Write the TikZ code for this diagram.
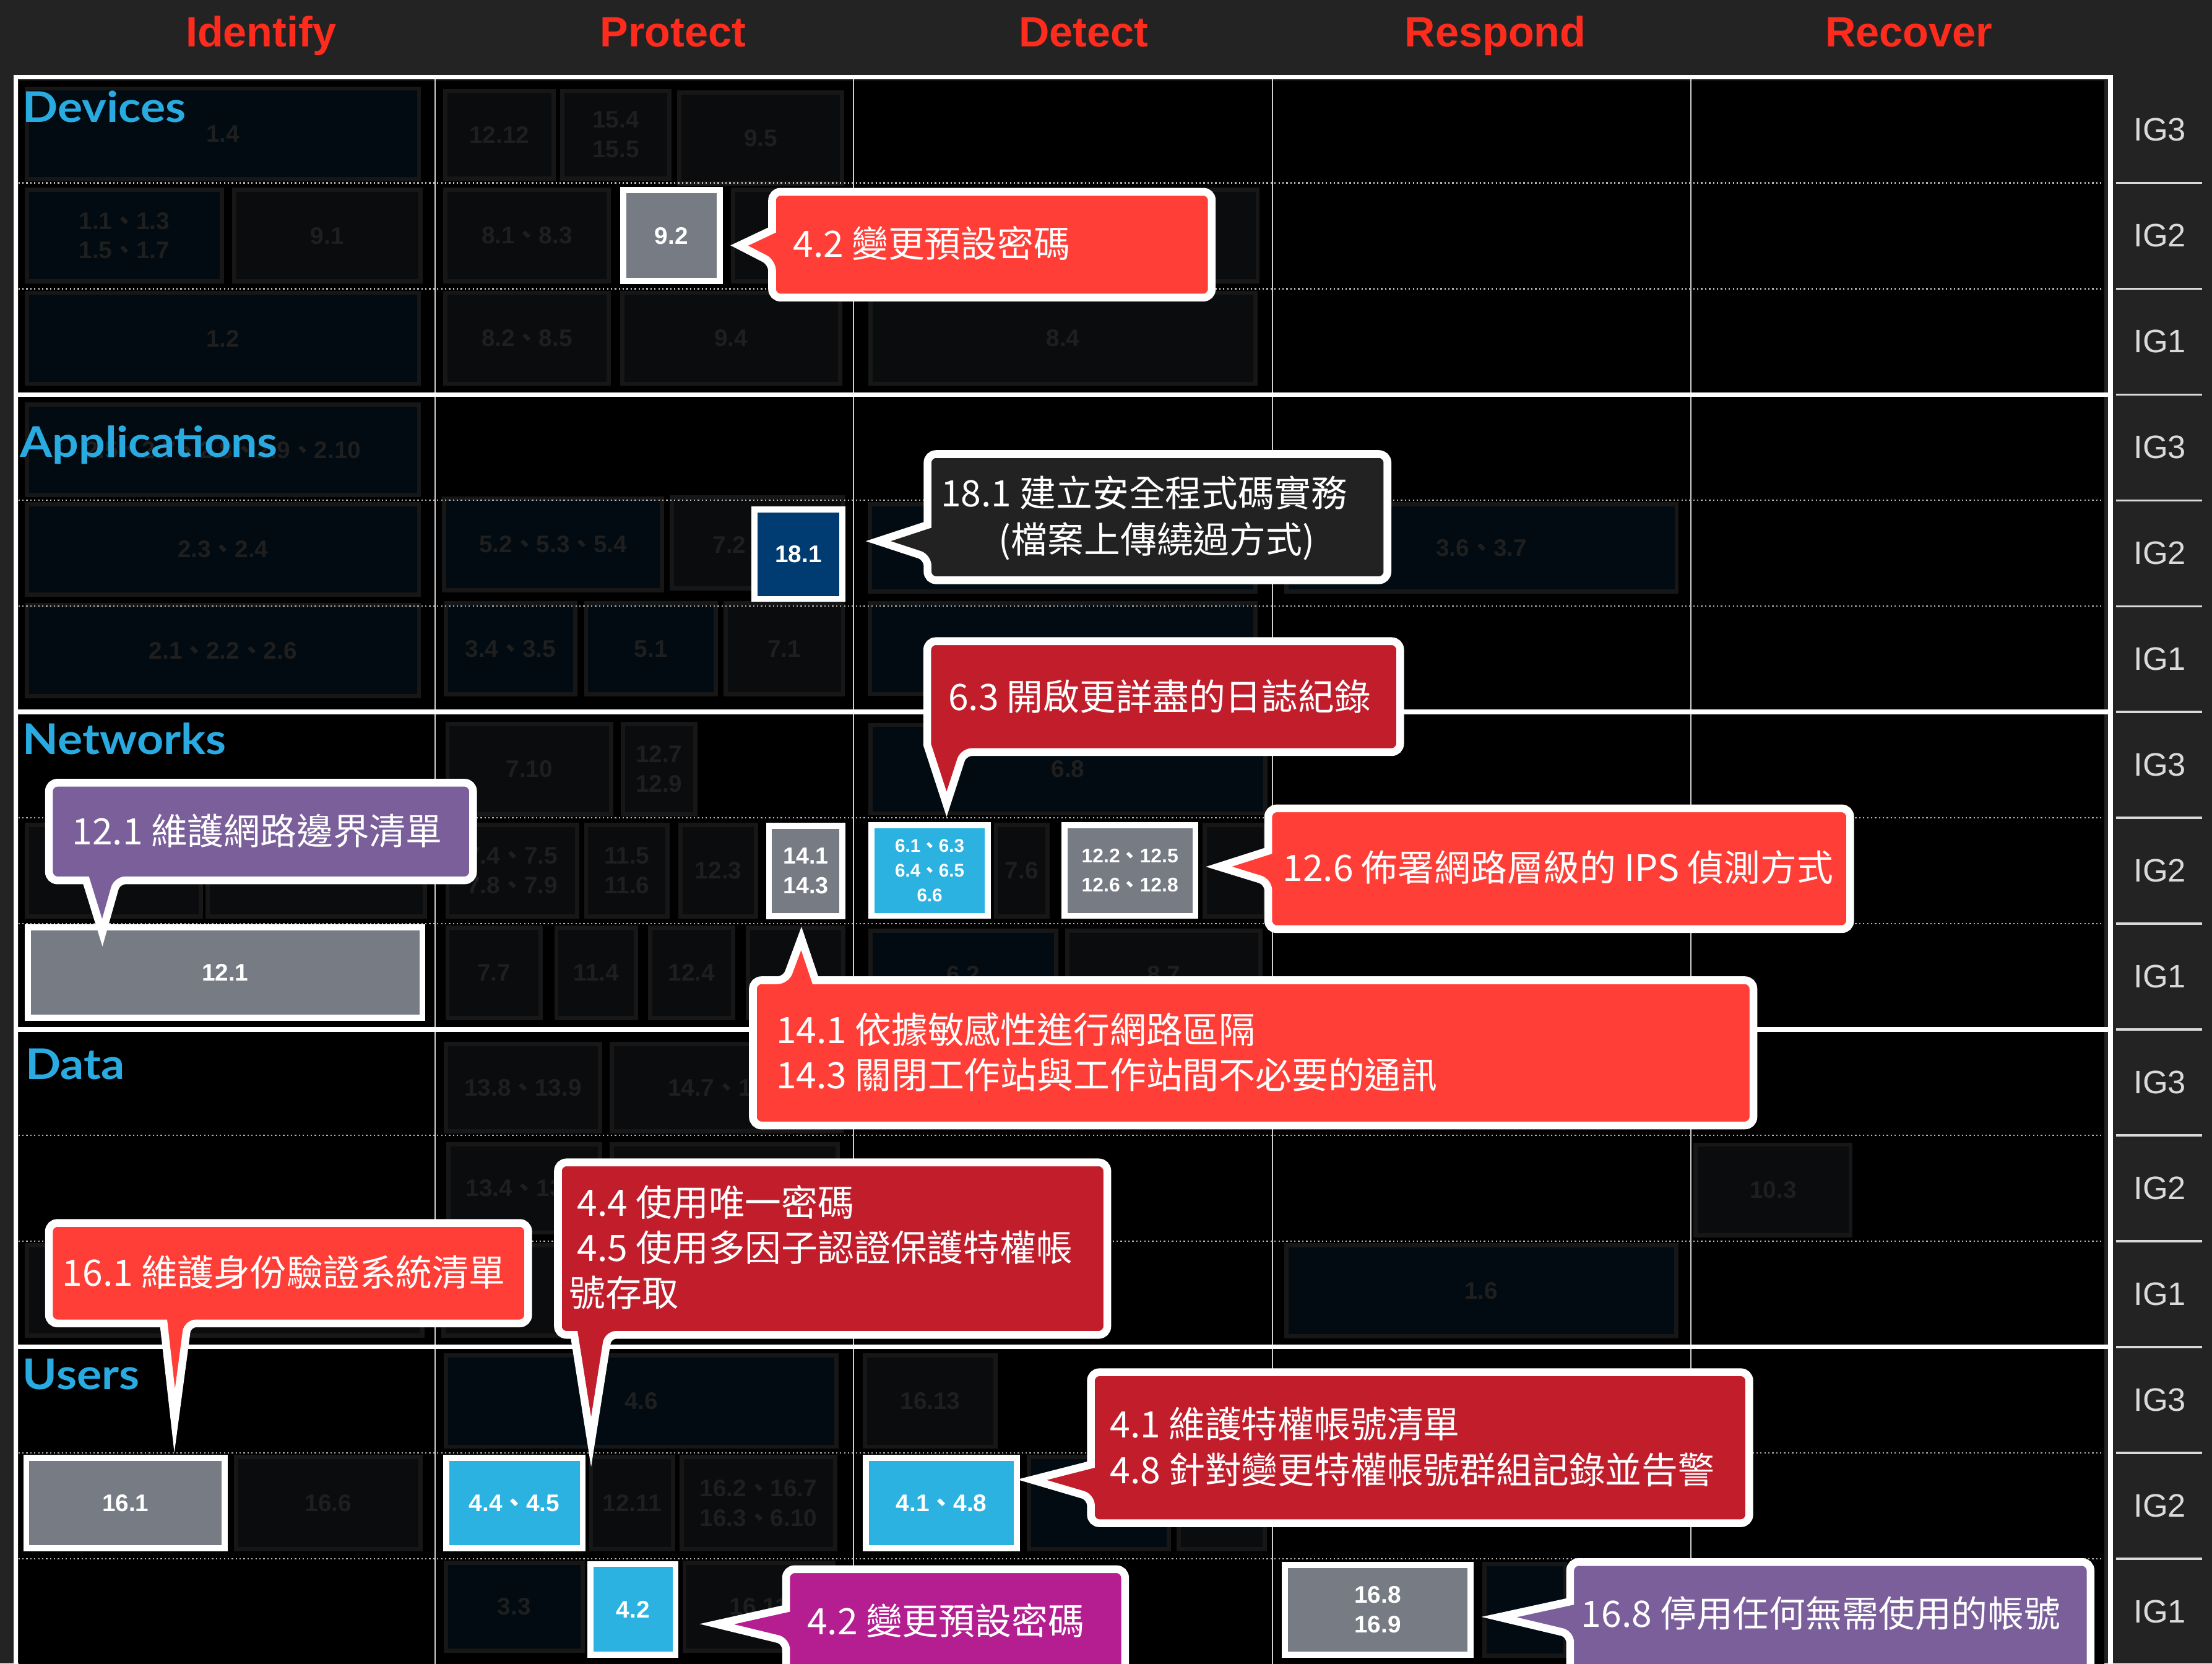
\documentclass[tikz,border=0pt]{standalone}
\usepackage{fontspec}
\setmainfont{Liberation Sans}
\newfontfamily\cjk{Noto Sans CJK TC}
\newfontfamily\catf[FakeStretch=1.1]{Lato}
\definecolor{pagebg}{HTML}{232323}
\definecolor{hdred}{HTML}{FF2B1C}
\definecolor{catblue}{HTML}{29ABE2}
\definecolor{dimfill}{HTML}{0B0C0E}
\definecolor{dimblue}{HTML}{020B11}
\definecolor{dimedge}{HTML}{171717}
\definecolor{dimtext}{HTML}{1F1F1F}
\definecolor{higray}{HTML}{767B84}
\definecolor{hicyan}{HTML}{2BB2E1}
\definecolor{hinavy}{HTML}{003B71}
\definecolor{cred}{HTML}{FF3F37}
\definecolor{ccrim}{HTML}{C21D2B}
\definecolor{cpurp}{HTML}{7A5F9B}
\definecolor{cmag}{HTML}{B51E90}
\definecolor{cdark}{HTML}{222222}
\definecolor{collin}{HTML}{CFCFCF}
\definecolor{dotc}{HTML}{B5B5B5}
\definecolor{iglab}{HTML}{DADADA}
\newcommand\dn{{\cjk 、}}
\newcommand\dbox[7]{\node[#6, minimum width={#4-#2-3}, minimum height={#5-#3-3}] (#1) at ({(#2+#4)/2},{(#3+#5)/2}) {#7};}
\newcommand\hibox[8][\fontsize{17}{21}\selectfont]{\node[hi, font=\bfseries#1, fill=#7, minimum width={#5-#3-4.3}, minimum height={#6-#4-4.3}] (#2) at ({(#3+#5)/2},{(#4+#6)/2}) {#8};}
% left-pointing callout: color, x1, y1, x2, y2, tipx, tipy, b1, b2
\newcommand\cL[9]{\draw[callout, fill=#1] ({(#2+#4)/2},#3) -- (#4,#3) -- (#4,#5) -- (#2,#5) -- (#2,#9) [sharp corners] -- (#6,#7) -- (#2,#8) [rounded corners=6pt] -- (#2,#3) -- cycle;}
% down-pointing callout: color, x1, y1, x2, y2, bL, bR, tipx, tipy
\newcommand\cD[9]{\draw[callout, fill=#1] ({(#2+#4)/2},#3) -- (#4,#3) -- (#4,#5) -- (#7,#5) [sharp corners] -- (#8,#9) -- (#6,#5) [rounded corners=6pt] -- (#2,#5) -- (#2,#3) -- cycle;}
\tikzset{
  dimg/.style={rectangle, fill=dimfill, draw=dimedge, line width=3pt, inner sep=0pt, text=dimtext, font=\bfseries\fontsize{17}{21}\selectfont, align=center},
  dimb/.style={dimg, fill=dimblue},
  hi/.style={rectangle, draw=white, line width=4.3pt, inner sep=0pt, text=white, align=center},
  callout/.style={draw=white, line width=5.5pt, rounded corners=6pt},
  ctext/.style={inner sep=0pt, text=white, font=\cjk\fontsize{25.8}{32}\selectfont, anchor=base west},
  hdr/.style={text=hdred, font=\bfseries\fontsize{30}{36}\selectfont, anchor=base, inner sep=0pt},
  cat/.style={text=catblue, font=\catf\bfseries\fontsize{30}{36}\selectfont, anchor=base west, inner sep=0pt},
  ig/.style={text=iglab, font=\fontsize{23}{28}\selectfont, inner sep=0pt},
}
\begin{document}
\begin{tikzpicture}[x=1pt,y=-1pt]
\useasboundingbox (0,0) rectangle (1568,1179);
\clip (0,0) rectangle (1568,1179);
\fill[pagebg] (0,0) rectangle (1568,1179);
\fill[black] (13,57) rectangle (1491.5,1200);
% column lines
\foreach \x in {308.3,605,902,1198.5} \draw[collin, line width=1pt] (\x,56) -- (\x,1200);
% frame and section lines
\draw[white, line width=3.2pt] (11.3,1200) -- (11.3,54.6) -- (1496,54.6) -- (1496,1200);
\foreach \y in {279.7,504.6,729.5,954.4} \draw[white, line width=3.4pt] (11.3,\y) -- (1496,\y);
% headers
\node[hdr] (hId) at (185,33.3) {Identify};
\node[hdr] (hPr) at (477,33.3) {Protect};
\node[hdr] (hDe) at (768,33.3) {Detect};
\node[hdr] (hRs) at (1060,33.3) {Respond};
\node[hdr] (hRc) at (1353,33.3) {Recover};
% IG side column
\foreach \k in {0,...,13} \draw[iglab, line width=1.5pt] (1500,{129.6+75*\k}) -- (1561,{129.6+75*\k});
\foreach \i in {0,...,4} {
  \foreach \j/\t in {0/IG3,1/IG2,2/IG1} {
    \node[ig] (ig-\i-\j) at (1531,{92+225*\i+75*\j}) {\t};
  }
}
% ---------- dim boxes ----------
% Devices
\dbox{d1}{17.6}{61.2}{298.5}{128.5}{dimb}{1.4}
\dbox{d2}{314}{63}{394}{128}{dimg}{12.12}
\dbox{d3}{397}{63}{476}{128}{dimg}{15.4\\15.5}
\dbox{d4}{480}{64}{598.5}{131.5}{dimg}{9.5}
\dbox{d5}{17.6}{133}{158.6}{201}{dimb}{1.1\dn1.3\\1.5\dn1.7}
\dbox{d6}{164.5}{133}{299.6}{201}{dimg}{9.1}
\dbox{d7}{314}{133}{433}{201}{dimg}{8.1\dn8.3}
\dbox{d8}{518}{133}{598}{201}{dimg}{}
\dbox{d9}{615}{133}{893}{201}{dimg}{}
\dbox{d10}{17.6}{206}{298.5}{273.5}{dimb}{1.2}
\dbox{d11}{314}{206}{433}{273.5}{dimg}{8.2\dn8.5}
\dbox{d12}{439.5}{206}{597}{273.5}{dimg}{9.4}
\dbox{d13}{615.4}{206}{891.5}{273.5}{dimg}{8.4}
% Applications
\dbox{a1}{17.6}{285.3}{298.5}{352.4}{dimb}{2.5\dn2.7\dn2.8\dn2.9\dn2.10}
\dbox{a2}{17.6}{355.9}{298.5}{422.8}{dimb}{2.3\dn2.4}
\dbox{a3}{313.4}{352}{470.8}{419.8}{dimb}{5.2\dn5.3\dn5.4}
\dbox{a4}{474.7}{350.9}{599}{418.5}{dimg}{}
\node[dimg, draw=none, fill=none] (a4t) at (517,386) {7.2};
\dbox{a6}{17.6}{427.3}{298.5}{494.8}{dimb}{2.1\dn2.2\dn2.6}
\dbox{a7}{314.5}{426}{409.3}{493.6}{dimb}{3.4\dn3.5}
\dbox{a8}{414}{426}{509}{493.6}{dimb}{5.1}
\dbox{a9}{513}{426}{599}{493.6}{dimg}{7.1}
\dbox{a10}{615.3}{355.9}{891.5}{420.8}{dimb}{}
\dbox{a11}{910.3}{355.9}{1190}{420.8}{dimb}{3.6\dn3.7}
\dbox{a12}{615}{426}{891.5}{493.3}{dimb}{}
% Networks
\dbox{n1}{315.7}{511.5}{434.8}{578.7}{dimg}{7.10}
\dbox{n2}{440}{511.5}{494.3}{578.7}{dimg}{12.7\\12.9}
\dbox{n3}{17.6}{583.2}{143.8}{651}{dimg}{}
\dbox{n4}{145.7}{583.2}{302.8}{651}{dimg}{}
\dbox{n5}{315.7}{583.2}{410.5}{651}{dimg}{7.4\dn7.5\\7.8\dn7.9}
\dbox{n6}{414}{583.2}{474.7}{651}{dimg}{11.5\\11.6}
\dbox{n7}{481}{583.2}{537.4}{651}{dimg}{12.3}
\dbox{n10}{315.7}{655.8}{384.6}{723}{dimg}{7.7}
\dbox{n11}{392.9}{655.8}{452.4}{723}{dimg}{11.4}
\dbox{n12}{459.5}{655.8}{521}{723}{dimg}{12.4}
\dbox{n13}{528.8}{655.8}{599.3}{723}{dimg}{}
\dbox{n14}{615.5}{512.2}{898.5}{578}{dimb}{6.8}
\dbox{n16}{704.4}{583}{744}{651}{dimg}{7.6}
\dbox{n18}{852.4}{583}{898.5}{651}{dimg}{}
\dbox{n19}{615.5}{658}{750}{723}{dimb}{6.2}
\dbox{n20}{755}{658}{895}{723}{dimg}{8.7}
% Data
\dbox{t1}{314.5}{738.3}{427}{803.2}{dimg}{13.8\dn13.9}
\dbox{t2}{432}{738.3}{598}{803.2}{dimg}{14.7\dn14.8}
\dbox{t3}{316.5}{809.3}{427}{875}{dimg}{13.4\dn13.5}
\dbox{t4}{432}{809.3}{595.4}{875}{dimg}{}
\dbox{t5}{1200.5}{809.7}{1313.3}{876.8}{dimg}{10.3}
\dbox{t6}{17.6}{881}{300.8}{948.2}{dimg}{}
\dbox{t7}{313}{881}{480}{948.2}{dimg}{}
\dbox{t8}{910.4}{881}{1189.6}{948.3}{dimb}{1.6}
% Users
\dbox{u1}{314.5}{959.1}{594.6}{1026.8}{dimb}{4.6}
\dbox{u2}{611.7}{959}{707.1}{1026.8}{dimg}{16.13}
\dbox{u4}{165.7}{1030.9}{299.6}{1099.4}{dimg}{16.6}
\dbox{u6}{417.5}{1030.9}{478.6}{1099.4}{dimg}{12.11}
\dbox{u7}{481.8}{1030.9}{593.4}{1099.4}{dimg}{16.2\dn16.7\\16.3\dn6.10}
\dbox{u9}{728}{1031}{830}{1099.4}{dimb}{}
\dbox{u10}{834}{1031}{898}{1099.4}{dimg}{}
\dbox{u11}{314.5}{1105.9}{414.4}{1171.4}{dimb}{3.3}
\dbox{u13}{483.7}{1105.9}{592.2}{1171.4}{dimg}{16.11}
\dbox{u15}{1050.7}{1107}{1111}{1174.7}{dimb}{}
% dotted IG separators
\foreach \y in {129.6,204.6,354.6,429.6,579.6,654.6,804.6,879.6,1029.6,1104.6}
  \draw[dotc, line width=1pt, dash pattern=on 1pt off 1.8pt] (13,\y) -- (1491,\y);
% ---------- highlighted boxes ----------
\hibox{h92}{439.5}{132.7}{512.3}{201.4}{higray}{9.2}
\hibox{h181}{532.7}{359}{599.3}{426.6}{hinavy}{18.1}
\hibox[\fontsize{16.5}{21}\selectfont]{h141}{543}{583}{599.3}{651.5}{higray}{14.1\\14.3}
\hibox{h121}{17.6}{655}{301.6}{723.5}{higray}{12.1}
\hibox[\fontsize{13}{17.5}\selectfont]{h61}{615.5}{582.5}{702.5}{651.2}{hicyan}{6.1\dn6.3\\6.4\dn6.5\\6.6}
\hibox[\fontsize{14}{21}\selectfont]{h122}{752.5}{582.5}{849.5}{651.2}{higray}{12.2\dn12.5\\12.6\dn12.8}
\hibox{h161}{16.5}{1030.9}{161.4}{1099.4}{higray}{16.1}
\hibox{h44}{314}{1030.9}{415.2}{1099.4}{hicyan}{4.4\dn4.5}
\hibox{h42}{416.4}{1106.3}{481}{1175}{hicyan}{4.2}
\hibox{h41}{611.7}{1031}{723}{1099.4}{hicyan}{4.1\dn4.8}
\hibox{h168}{908.8}{1107}{1044.4}{1174.7}{higray}{16.8\\16.9}
% ---------- category labels ----------
\node[cat] (cDev) at (16,86.6) {Devices};
\node[cat] (cApp) at (14,324.1) {Applications};
\node[cat] (cNet) at (16,534.6) {Networks};
\node[cat] (cDat) at (18,765) {Data};
\node[cat] (cUsr) at (16,984.7) {Users};
% ---------- callouts ----------
\cL{cred}{547.3}{135.9}{859}{210.9}{524}{174}{163}{186}
\node[ctext] (k1) at (562,182.5) {4.2 變更預設密碼};
\cL{cdark}{657.5}{321.8}{983.5}{411.2}{622.5}{383.5}{372}{395}
\node[ctext, anchor=base] (k2a) at (811,359.3) {18.1 建立安全程式碼實務};
\node[ctext, anchor=base] (k2b) at (820,391.8) {(檔案上傳繞過方式)};
\draw[callout, fill=ccrim] (825,454.4) -- (992.5,454.4) -- (992.5,533) -- (683,533) [sharp corners] -- (671,570) -- (657.3,528) [rounded corners=6pt] -- (657.3,454.4) -- cycle;
\node[ctext] (k3) at (672,503.5) {6.3 開啟更詳盡的日誌紀錄};
\cD{cpurp}{34.7}{554.7}{335.3}{623.9}{61}{83}{72.5}{661}
\node[ctext] (k4) at (51,598.5) {12.1 維護網路邊界清單};
\cL{cred}{899}{572.9}{1311.5}{658.5}{864}{614.2}{603}{625}
\node[ctext] (k5) at (909,624.5) {12.6 佈署網路層級的 IPS 偵測方式};
\draw[callout, fill=cred] (900,694.7) -- (1242.9,694.7) -- (1242.9,797.6) -- (533.7,797.6) -- (533.7,694.7) -- (557,694.7) [sharp corners] -- (568,665) -- (578,694.7) [rounded corners=6pt] -- cycle;
\node[ctext] (k6a) at (550,739.5) {14.1 依據敏感性進行網路區隔};
\node[ctext] (k6b) at (550,771.5) {14.3 關閉工作站與工作站間不必要的通訊};
\cD{ccrim}{395.5}{823.8}{784.9}{946}{407}{431}{419}{1022}
\node[ctext] (k7a) at (409,861.8) {4.4 使用唯一密碼};
\node[ctext] (k7b) at (409,893.8) {4.5 使用多因子認證保護特權帳};
\node[ctext] (k7c) at (403.4,926) {號存取};
\cD{cred}{34.7}{866.7}{374.4}{937.9}{116}{133}{123.8}{1007}
\node[ctext] (k8) at (44,911.5) {16.1 維護身份驗證系統清單};
\cL{ccrim}{773.3}{972.5}{1240}{1079.5}{731.5}{1048.7}{1038}{1061}
\node[ctext] (k9a) at (786.6,1019) {4.1 維護特權帳號清單};
\node[ctext] (k9b) at (786.6,1051.4) {4.8 針對變更特權帳號群組記錄並告警};
\cL{cmag}{557.2}{1112.1}{797.5}{1200}{508}{1151}{1140}{1163}
\node[ctext] (k10) at (572,1158.5) {4.2 變更預設密碼};
\cL{cpurp}{1113}{1107}{1481.9}{1200}{1062.5}{1146}{1135}{1158}
\node[ctext] (k11) at (1120.7,1153) {16.8 停用任何無需使用的帳號};
\end{tikzpicture}
\end{document}
